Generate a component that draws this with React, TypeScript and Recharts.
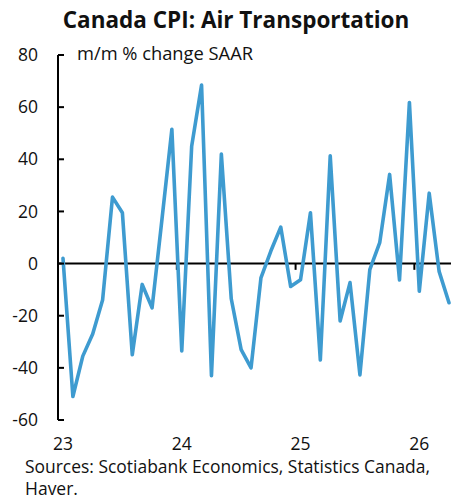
import { LineChart, Line, XAxis, YAxis, ReferenceLine } from 'recharts';

// monthly, Jan 2023 .. Apr 2026
const months = [
  '2023-01', '2023-02', '2023-03', '2023-04', '2023-05', '2023-06', '2023-07', '2023-08', '2023-09', '2023-10', '2023-11', '2023-12',
  '2024-01', '2024-02', '2024-03', '2024-04', '2024-05', '2024-06', '2024-07', '2024-08', '2024-09', '2024-10', '2024-11', '2024-12',
  '2025-01', '2025-02', '2025-03', '2025-04', '2025-05', '2025-06', '2025-07', '2025-08', '2025-09', '2025-10', '2025-11', '2025-12',
  '2026-01', '2026-02', '2026-03', '2026-04',
];

// m/m % change SAAR
const airTransport = [
  2, -51, -35.5, -27, -14, 25.5, 19.5, -35, -8, -17, 17, 51.5,
  -33.5, 45, 68.5, -43, 42, -13.5, -33, -40, -5.5, 4.8, 14, -8.8,
  -6.2, 19.5, -37, 41.3, -22, -7.3, -42.7, -2.3, 8, 34.2, -6.3, 61.8,
  -10.6, 27, -3, -15,
];

const yearLabels = ['23', '24', '25', '26'];
const yTicks = [-60, -40, -20, 0, 20, 40, 60, 80];

const data = months.map((m, i) => ({ idx: i, month: m, value: airTransport[i] }));
const yearTicks = months.map((m, i) => (m.endsWith('-01') ? i : -1)).filter((i) => i >= 0);
// small marks on the zero line between Dec and Jan
const yearBounds = yearTicks.filter((i) => i > 0).map((i) => i - 0.5);

const FONT = '"Open Sans", sans-serif';
const BLUE = '#3e9bd0';

const YTick = (props: any) => {
  const { x, y, payload } = props;
  return (
    <g>
      <line x1={x} x2={x + 6} y1={y} y2={y} stroke="#000" strokeWidth={2} />
      <text x={x - 20} y={y} dy="0.35em" textAnchor="end" fontSize={17.5} fontFamily={FONT} fill="#111">
        {payload.value}
      </text>
    </g>
  );
};

export default function App() {
  return (
    <div style={{ position: 'absolute', left: 0, top: 0, width: 451, height: 502, background: '#fff' }}>
      <LineChart width={451} height={502} data={data} margin={{ top: 55, right: 0, bottom: 52, left: 0 }}>
        <XAxis
          dataKey="idx"
          type="number"
          domain={[0, months.length - 1]}
          ticks={yearTicks}
          tickFormatter={(v) => yearLabels[yearTicks.indexOf(v)]}
          axisLine={false}
          tickLine={false}
          tickSize={0}
          tickMargin={18}
          height={30}
          padding={{ left: 5, right: 2 }}
          tick={{ fill: '#111', fontSize: 17.5, fontFamily: FONT }}
          interval={0}
        />
        <YAxis
          domain={[-60, 80]}
          ticks={yTicks}
          width={58}
          tickSize={0}
          tickMargin={0}
          tickLine={false}
          axisLine={{ stroke: '#000', strokeWidth: 2 }}
          tick={<YTick />}
          interval={0}
        />
        <ReferenceLine y={0} stroke="#000" strokeWidth={2} />
        {yearBounds.map((b) => (
          <ReferenceLine
            key={b}
            segment={[{ x: b, y: 0 }, { x: b, y: -2.4 }]}
            stroke="#000"
            strokeWidth={2}
            ifOverflow="visible"
          />
        ))}
        <Line
          type="linear"
          dataKey="value"
          stroke={BLUE}
          strokeWidth={3.6}
          strokeLinejoin="round"
          strokeLinecap="round"
          dot={false}
          isAnimationActive={false}
        />
      </LineChart>
      <svg width={451} height={502} style={{ position: 'absolute', left: 0, top: 0, pointerEvents: 'none' }}>
        <text x={236} y={28} textAnchor="middle" fontSize={22.5} fontWeight="bold" fontFamily={FONT} fill="#111">
          Canada CPI: Air Transportation
        </text>
        <text x={77} y={60} fontSize={18} fontFamily={FONT} fill="#111" textLength={176} lengthAdjust="spacingAndGlyphs">
          m/m % change SAAR
        </text>
        <text x={25} y={473} fontSize={17.5} fontFamily={FONT} fill="#111" textLength={405} lengthAdjust="spacingAndGlyphs">
          Sources: Scotiabank Economics, Statistics Canada,
        </text>
        <text x={25} y={495} fontSize={17.5} fontFamily={FONT} fill="#111">
          Haver.
        </text>
      </svg>
    </div>
  );
}
